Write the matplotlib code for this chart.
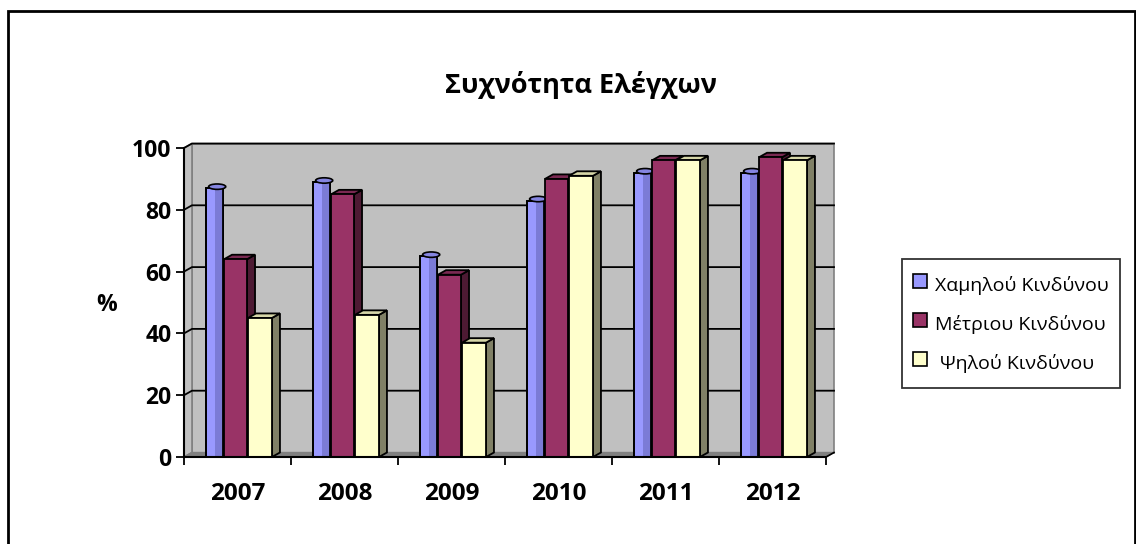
import matplotlib
matplotlib.use("Agg")
import matplotlib.pyplot as plt
import matplotlib.patches as mpatches
from matplotlib.lines import Line2D
import numpy as np

plt.rcParams['font.family'] = ['Open Sans', 'DejaVu Sans']

# data
years = ["2007", "2008", "2009", "2010", "2011", "2012"]
series_names = ["Χαμηλού Κινδύνου", "Μέτριου Κινδύνου", " Ψηλού Κινδύνου"]
low_risk = [87, 89, 65, 83, 92, 92]
mid_risk = [64, 85, 59, 90, 96, 97]
high_risk = [45, 46, 37, 91, 96, 96]

# colours: front, side, top
colors = [("#9999ff", "#7b7bd6", "#8585e0"),
          ("#993366", "#4d1a33", "#7a2952"),
          ("#ffffcc", "#808066", "#d6d6a8")]

W, H = 1136, 544
fig = plt.figure(figsize=(W / 100, H / 100), dpi=100)

# pixel layout of the plot area
x0_px, x6_px = 184, 826
y0_px, y100_px = 457, 148
ax_right_px, ax_top_px = 840, 138
ppu_x = (x6_px - x0_px) / 6.0
ppu_y = (y0_px - y100_px) / 100.0
xmax = (ax_right_px - x0_px) / ppu_x
ymax = (y0_px - ax_top_px) / ppu_y

ax = fig.add_axes([x0_px / W, 1 - y0_px / H, (ax_right_px - x0_px) / W, (y0_px - ax_top_px) / H])
ax.set_xlim(0, xmax)
ax.set_ylim(0, ymax)
ax.patch.set_visible(False)

dx = 8 / ppu_x
dy = 4.5 / ppu_y

# walls and floor
wall = "#c0c0c0"
edge = "#808080"
ax.add_patch(mpatches.Polygon([(dx, dy), (6 + dx, dy), (6 + dx, 100 + dy), (dx, 100 + dy)],
                              closed=True, facecolor=wall, edgecolor=edge, lw=1.2, zorder=1))
ax.add_patch(mpatches.Polygon([(0, 0), (dx, dy), (dx, 100 + dy), (0, 100)],
                              closed=True, facecolor=wall, edgecolor=edge, lw=1.2, zorder=1))
ax.add_patch(mpatches.Polygon([(0, 0), (6, 0), (6 + dx, dy), (dx, dy)],
                              closed=True, facecolor="#808080", edgecolor=edge, lw=1, zorder=1))
for v in range(20, 101, 20):
    ax.plot([0, dx, 6 + dx], [v, v + dy, v + dy], color="black", lw=1.3, zorder=2)

# bars with a visible side and top face
offsets = [(0.205, 0.160), (0.374, 0.215), (0.598, 0.224)]
for s, vals in enumerate([low_risk, mid_risk, high_risk]):
    front, side, top = colors[s]
    left_off, width = offsets[s]
    for i, v in enumerate(vals):
        xl = i + left_off
        xr = xl + width
        z = 3 + s
        if s == 0:
            # cylinder look
            ax.add_patch(mpatches.Rectangle((xl, 0), width, v, facecolor=front,
                                            edgecolor="black", lw=1.3, zorder=z))
            ax.add_patch(mpatches.Rectangle((xl + width * 0.55, 0), width * 0.45, v,
                                            facecolor=side, edgecolor="none", lw=0, zorder=z))
            ax.add_patch(mpatches.Rectangle((xl, 0), width, v, facecolor="none",
                                            edgecolor="black", lw=1.3, zorder=z))
            ax.add_patch(mpatches.Ellipse((xl + width / 2 + dx / 3, v + dy / 3), width, dy * 1.2,
                                          facecolor=top, edgecolor="black", lw=1.2, zorder=z))
        else:
            ax.add_patch(mpatches.Polygon([(xr, 0), (xr + dx, dy), (xr + dx, v + dy), (xr, v)],
                                          closed=True, facecolor=side, edgecolor="black",
                                          lw=1.3, zorder=z))
            ax.add_patch(mpatches.Polygon([(xl, v), (xl + dx, v + dy), (xr + dx, v + dy), (xr, v)],
                                          closed=True, facecolor=top, edgecolor="black",
                                          lw=1.3, zorder=z))
            ax.add_patch(mpatches.Rectangle((xl, 0), width, v, facecolor=front,
                                            edgecolor="black", lw=1.3, zorder=z))

# axes lines and ticks
for sp in ["top", "right"]:
    ax.spines[sp].set_visible(False)
ax.spines["left"].set_bounds(0, 100)
ax.spines["bottom"].set_bounds(0, 6)
ax.spines["left"].set_linewidth(1.5)
ax.spines["bottom"].set_linewidth(1.5)
ax.spines["left"].set_zorder(10)
ax.spines["bottom"].set_zorder(10)
ax.plot([6, 6 + dx], [0, dy], color="black", lw=1.2, zorder=10, clip_on=False)

ax.set_yticks(range(0, 101, 20))
ax.set_yticklabels([str(v) for v in range(0, 101, 20)], fontsize=16.5, fontweight="bold")
ax.tick_params(axis="y", length=6, width=1.3, pad=3)

ax.set_xticks(range(7))
ax.set_xticklabels([])
ax.set_xticks(np.arange(6) + 0.5, minor=True)
ax.set_xticklabels(years, minor=True, fontsize=17.5, fontweight="bold")
ax.tick_params(axis="x", which="major", length=6, width=1.3)
ax.tick_params(axis="x", which="minor", length=0, pad=18)

fig.text(107 / W, 1 - 305 / H, "%", fontsize=16.5, fontweight="bold", ha="center", va="center")
fig.text(581 / W, 1 - 85 / H, "Συχνότητα Ελέγχων", fontsize=19.5, fontweight="bold",
         ha="center", va="center")

handles = [Line2D([0], [0], linestyle="none", marker="s", markersize=9.5,
                  markerfacecolor=c[0], markeredgecolor="black", markeredgewidth=1.2, label=n)
           for c, n in zip(colors, series_names)]
leg = fig.legend(handles=handles, loc="upper left", bbox_to_anchor=(902 / W, 1 - 259 / H),
                 fontsize=14, frameon=True, fancybox=False, edgecolor="black",
                 handlelength=0.6, handleheight=1.8, handletextpad=0.5, labelspacing=0.6,
                 borderpad=0.6, borderaxespad=0)
leg.get_frame().set_linewidth(1.3)

# chart border
fig.patches.append(mpatches.Rectangle((8 / W, -0.1), (1135 - 8) / W, 1.1 - 11 / H,
                                      transform=fig.transFigure, fill=False,
                                      edgecolor="black", lw=2))

fig.savefig("out.png", dpi=100, facecolor="white")
